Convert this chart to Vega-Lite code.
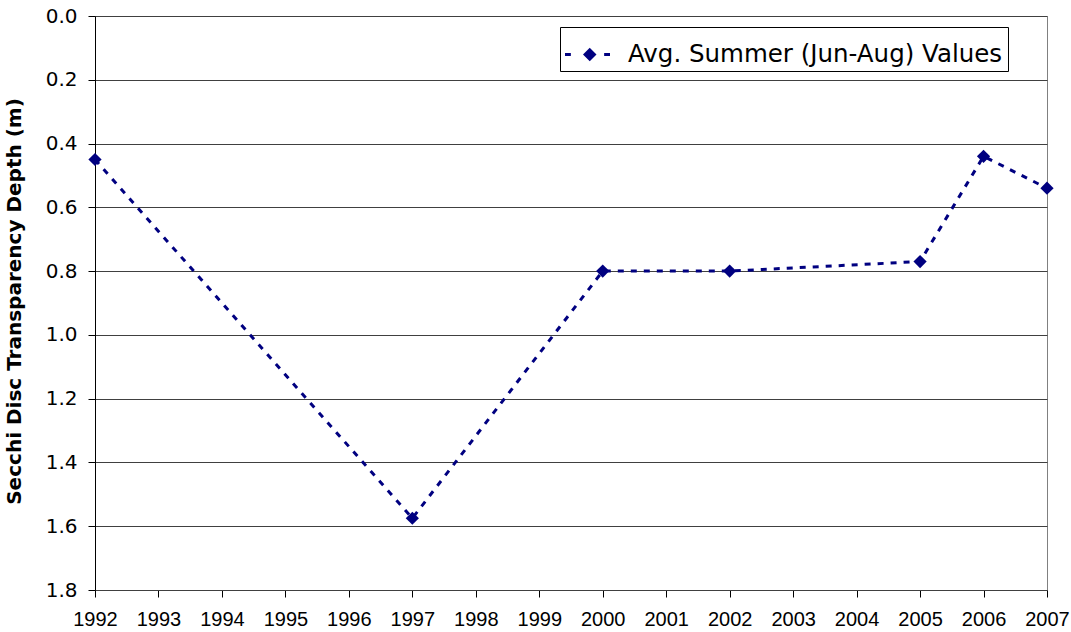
{
  "$schema": "https://vega.github.io/schema/vega-lite/v6.json",
  "width": 952,
  "height": 574,
  "autosize": "none",
  "padding": {"left": 95, "top": 16, "right": 24, "bottom": 42},
  "background": "white",
  "config": {
    "view": {"stroke": "#808080", "strokeWidth": 1},
    "axis": {"labelColor": "#000", "domainColor": "#000", "tickColor": "#000", "titleColor": "#000"}
  },
  "data": {
    "values": [
      {"year": 1992, "depth": 0.45, "series": "Avg. Summer (Jun-Aug) Values"},
      {"year": 1997, "depth": 1.575, "series": "Avg. Summer (Jun-Aug) Values"},
      {"year": 2000, "depth": 0.80, "series": "Avg. Summer (Jun-Aug) Values"},
      {"year": 2002, "depth": 0.80, "series": "Avg. Summer (Jun-Aug) Values"},
      {"year": 2005, "depth": 0.77, "series": "Avg. Summer (Jun-Aug) Values"},
      {"year": 2006, "depth": 0.44, "series": "Avg. Summer (Jun-Aug) Values"},
      {"year": 2007, "depth": 0.54, "series": "Avg. Summer (Jun-Aug) Values"}
    ]
  },
  "encoding": {
    "x": {
      "field": "year", "type": "quantitative",
      "scale": {"domain": [1992, 2007], "nice": false, "zero": false},
      "axis": {
        "title": null, "grid": false, "format": "d",
        "values": [1992,1993,1994,1995,1996,1997,1998,1999,2000,2001,2002,2003,2004,2005,2006,2007],
        "labelFont": "Liberation Sans", "labelFontSize": 20, "labelPadding": 12,
        "tickSize": 7, "labelOverlap": false, "labelFlush": false,
        "domainColor": "#404040"
      }
    },
    "y": {
      "field": "depth", "type": "quantitative",
      "scale": {"domain": [0, 1.8], "reverse": true, "nice": false},
      "axis": {
        "title": "Secchi Disc Transparency Depth (m)",
        "titleFont": "DejaVu Sans", "titleFontSize": 20, "titleFontWeight": "bold",
        "titleX": -71, "titleY": 285, "titleAngle": -90, "titleBaseline": "bottom", "titleAlign": "center",
        "values": [0, 0.2, 0.4, 0.6, 0.8, 1.0, 1.2, 1.4, 1.6, 1.8],
        "format": ".1f",
        "labelFont": "DejaVu Sans", "labelFontSize": 20, "labelPadding": 11,
        "tickSize": 7, "grid": true, "gridColor": "#404040", "gridWidth": 1,
        "labelOverlap": false, "labelFlush": false
      }
    }
  },
  "layer": [
    {
      "mark": {"type": "line", "color": "#000080", "strokeWidth": 3, "strokeDash": [6, 7]}
    },
    {
      "mark": {"type": "point", "shape": "diamond", "filled": true, "size": 175, "opacity": 1},
      "encoding": {
        "color": {
          "field": "series", "type": "nominal",
          "scale": {"range": ["#000080"]},
          "legend": {
            "title": null,
            "orient": "none",
            "legendX": 465,
            "legendY": 11,
            "direction": "vertical",
            "symbolType": "M-1,-0.07H-0.74V0.07H-1Z M0.1,-0.3L0.4,0L0.1,0.3L-0.2,0Z M0.74,-0.07H1V0.07H0.74Z",
            "symbolSize": 2025,
            "symbolStrokeWidth": 0,
            "symbolOpacity": 1,
            "labelFont": "DejaVu Sans",
            "labelFontSize": 24.5,
            "labelColor": "#000",
            "labelOffset": 18,
            "labelLimit": 1000,
            "padding": 5,
            "strokeColor": "#000",
            "fillColor": "white"
          }
        }
      }
    }
  ]
}
